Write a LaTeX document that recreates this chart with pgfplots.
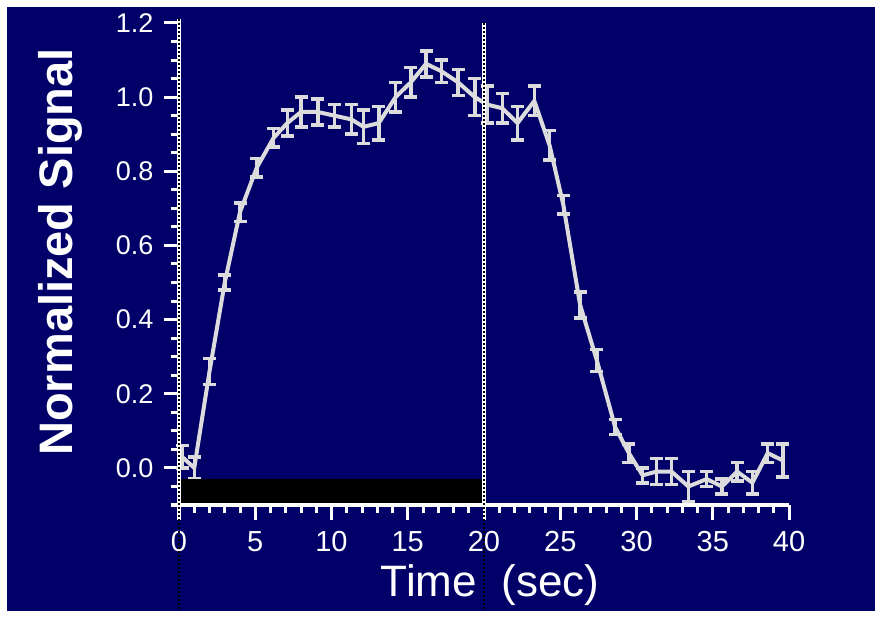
\documentclass[border=0pt]{standalone}
\usepackage{pgfplots}
\pgfplotsset{compat=1.18}
\usepackage{pgfplotstable}
\usepackage{fontspec}
\setmainfont{Liberation Sans}
\definecolor{navy}{RGB}{0,0,104}
\definecolor{trace}{RGB}{220,220,220}

\pgfplotstableread{
t v e
0.2 0.03 0.03
1.0 0.00 0.03
2.0 0.26 0.035
3.0 0.50 0.02
4.0 0.69 0.025
5.1 0.81 0.025
6.2 0.89 0.025
7.1 0.93 0.035
8.0 0.96 0.04
9.1 0.96 0.035
10.2 0.95 0.03
11.3 0.94 0.04
12.1 0.92 0.045
13.1 0.93 0.045
14.2 1.00 0.04
15.2 1.04 0.04
16.2 1.09 0.035
17.2 1.07 0.03
18.3 1.04 0.035
19.4 1.00 0.05
20.2 0.98 0.05
21.2 0.97 0.04
22.2 0.93 0.045
23.3 0.99 0.04
24.3 0.87 0.04
25.2 0.71 0.025
26.3 0.44 0.035
27.4 0.29 0.03
28.6 0.11 0.02
29.5 0.04 0.025
30.4 -0.02 0.02
31.3 -0.01 0.035
32.3 -0.01 0.035
33.4 -0.05 0.04
34.6 -0.03 0.02
35.6 -0.05 0.02
36.6 -0.01 0.025
37.6 -0.04 0.03
38.6 0.04 0.025
39.6 0.02 0.045
}\signal

\begin{document}
\begin{tikzpicture}
\useasboundingbox (0bp,0bp) rectangle (882bp,618bp);
\fill[navy] (0bp,0bp) rectangle (882bp,618bp);
\begin{axis}[
	at={(179bp,113bp)}, anchor=south west,
	scale only axis, width=610bp, height=482bp,
	xmin=0, xmax=40, ymin=-0.1, ymax=1.2,
	clip=false,
	axis line style={draw=none},
	xtick={0,5,...,40}, minor x tick num=4,
	ytick={0,0.2,0.4,0.6,0.8,1.0,1.2}, minor y tick num=3,
	extra y ticks={-0.05,-0.1}, extra y tick labels={},
	extra y tick style={major tick length=8bp},
	tick align=outside,
	xtick pos=bottom, ytick pos=left,
	major tick length=15bp, minor tick length=8bp,
	tick style={white, line width=3bp},
	/pgf/number format/assume math mode=true,
	y tick label style={/pgf/number format/fixed, /pgf/number format/fixed zerofill, /pgf/number format/precision=1},
	yticklabel style={font=\fontsize{27bp}{30bp}\selectfont, text=white, xshift=-7bp},
	xticklabel style={font=\fontsize{29bp}{32bp}\selectfont, text=white, yshift=-8bp},
	xlabel={Time\ \ (sec)},
	ylabel={\bfseries Normalized Signal},
	xlabel style={font=\fontsize{44bp}{48bp}\selectfont, text=white,
		at={(axis description cs:0.51,-0.166)}, anchor=center},
	ylabel style={font=\fontsize{47bp}{50bp}\selectfont, text=white,
		at={(axis description cs:-0.195,0.525)}, anchor=center},
]
\addplot[draw=trace, line width=4bp, line join=round, mark=none,
	error bars/.cd, y dir=both, y explicit,
	error bar style={draw=trace, line width=3.5bp},
	error mark options={draw=trace, rotate=90, mark size=6.5bp, line width=3.5bp}]
	table[x=t, y=v, y error=e] {\signal};
% stimulus bar
\fill[black] (axis cs:0,-0.1) rectangle (axis cs:20,-0.03);
% x axis line
\draw[white, line width=3bp] (axis cs:0,-0.1) -- (axis cs:40,-0.1);
% stimulus on/off lines
\draw[white, line width=3bp] (axis cs:0,-0.1) -- (axis cs:0,1.21);
\draw[white, line width=4bp] (axis cs:20,-0.1) -- (axis cs:20,1.2);
\draw[black, line width=2bp, dash pattern=on 2bp off 2bp] (axis cs:0,-0.39) -- (axis cs:0,1.21);
\draw[black, line width=2bp, dash pattern=on 2bp off 2bp] (axis cs:20,-0.39) -- (axis cs:20,1.2);
\end{axis}
\draw[white, line width=14bp] (0bp,0bp) rectangle (882bp,618bp);
\end{tikzpicture}
\end{document}
